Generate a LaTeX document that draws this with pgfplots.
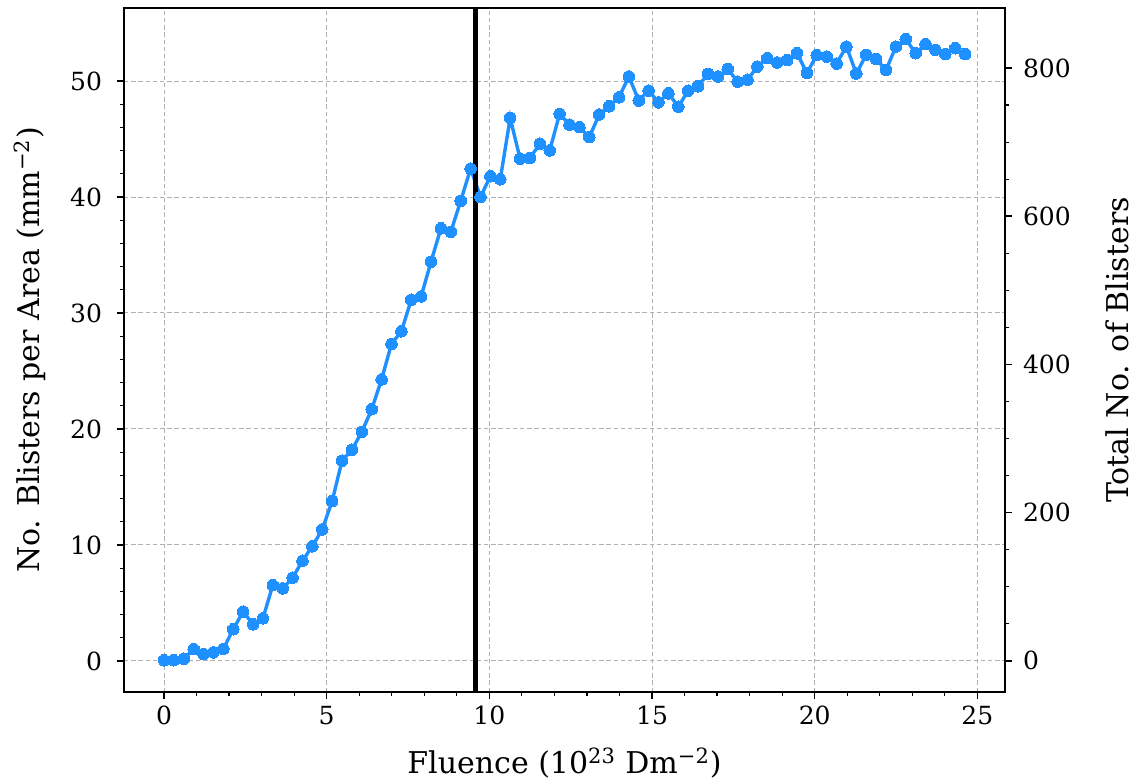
\documentclass[border=0pt]{standalone}
\usepackage{pgfplots}
\pgfplotsset{compat=1.18}
\usepackage{fontspec}
\setmainfont{DejaVu Serif}
\definecolor{dodger}{HTML}{1E90FF}
\definecolor{gridgray}{HTML}{B0B0B0}

% blister density vs fluence
\pgfplotstableread{
x y
0.000 0.06
0.304 0.06
0.608 0.19
0.912 1.01
1.216 0.58
1.520 0.73
1.824 1.04
2.128 2.73
2.432 4.25
2.736 3.16
3.040 3.67
3.344 6.53
3.648 6.25
3.952 7.17
4.256 8.64
4.560 9.88
4.864 11.34
5.168 13.78
5.472 17.26
5.776 18.21
6.080 19.75
6.384 21.70
6.688 24.27
6.992 27.34
7.296 28.42
7.600 31.14
7.904 31.43
8.208 34.43
8.512 37.30
8.816 37.00
9.120 39.67
9.424 42.45
9.728 40.01
10.032 41.79
10.336 41.53
10.640 46.82
10.944 43.30
11.248 43.35
11.552 44.59
11.856 44.02
12.160 47.17
12.464 46.24
12.768 46.02
13.072 45.16
13.376 47.11
13.680 47.82
13.984 48.59
14.288 50.39
14.592 48.31
14.896 49.17
15.200 48.16
15.504 48.94
15.808 47.79
16.112 49.17
16.416 49.55
16.720 50.62
17.024 50.39
17.328 51.03
17.632 49.95
17.936 50.11
18.240 51.25
18.544 51.97
18.848 51.60
19.152 51.80
19.456 52.40
19.760 50.69
20.064 52.23
20.368 52.11
20.672 51.51
20.976 52.97
21.280 50.65
21.584 52.26
21.888 51.89
22.192 50.94
22.496 52.97
22.800 53.61
23.104 52.40
23.408 53.18
23.712 52.69
24.016 52.32
24.320 52.83
24.624 52.32
}\blisters

\pgfplotsset{
  common/.style={
    scale only axis,
    width=440.5pt, height=342pt,
    xmin=-1.23, xmax=25.85,
    tick align=outside,
    major tick length=3.5pt,
    minor tick length=2pt,
    every major tick/.style={black, line width=0.8pt},
    every minor tick/.style={black, line width=0.6pt},
    axis line style={line width=0.8pt},
    tick label style={font=\fontsize{12.5}{15}\selectfont},
    label style={font=\fontsize{15}{18}\selectfont},
    /pgf/number format/assume math mode=true,
  }
}

\begin{document}
\begin{tikzpicture}
\begin{axis}[
  common,
  ymin=-2.68, ymax=56.3,
  xtick={0,5,...,25}, minor x tick num=4,
  ytick={0,10,...,50}, minor y tick num=4,
  xtick pos=bottom, ytick pos=left,
  yticklabel style={xshift=-4pt},
  grid=major,
  major grid style={gridgray, line width=0.5pt, dash pattern=on 2.2pt off 1.4pt},
  xlabel={Fluence (10\textsuperscript{23} Dm\textsuperscript{−2})},
  ylabel={No. Blisters per Area (mm\textsuperscript{−2})},
  xlabel style={at={([yshift=-41pt]axis description cs:0.5,0)}, anchor=base},
  ylabel style={at={([xshift=-42pt]axis description cs:0,0.5)}, anchor=base},
]
\addplot [color=dodger, line width=1.7pt, mark=*, mark size=2.9pt,
  mark options={solid, fill=dodger, draw=dodger, line width=0pt}]
  table [x=x, y=y] {\blisters};
\addplot [black, line width=2.5pt] coordinates {(9.58,-2.68) (9.58,56.3)};
\end{axis}
\begin{axis}[
  common,
  axis x line=none,
  axis y line*=right,
  ymin=-42, ymax=881,
  ytick={0,200,...,800}, minor y tick num=3,
  yticklabel style={xshift=2pt},
  ylabel={Total No. of Blisters},
  ylabel style={at={([xshift=61.5pt]axis description cs:1,0.5)}, anchor=base, rotate=0},
]
\end{axis}
\pgfresetboundingbox
\path ([xshift=-62pt,yshift=-46pt]current axis.south west)
  rectangle ([xshift=68pt,yshift=4pt]current axis.north east);
\end{tikzpicture}
\end{document}
